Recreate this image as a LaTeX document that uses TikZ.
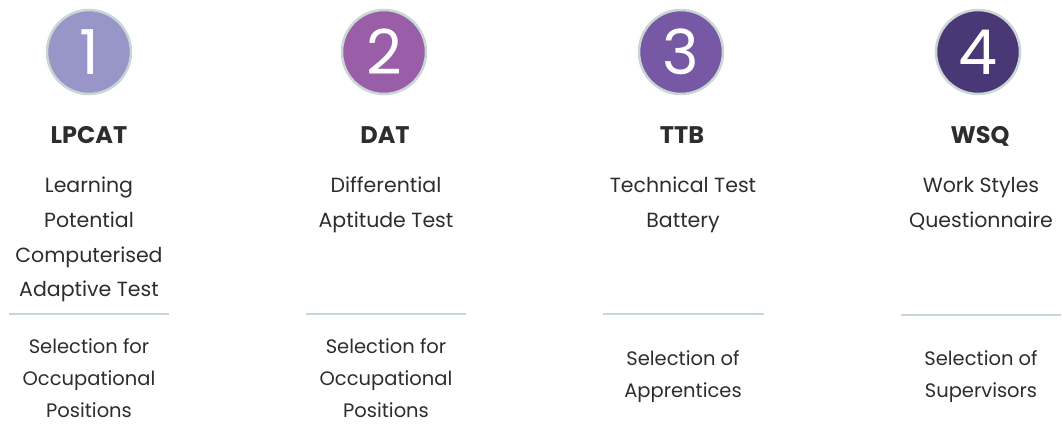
\documentclass[tikz,border=0pt]{standalone}
\usepackage{fontspec}
\setmainfont{Poppins}
\definecolor{cA}{HTML}{9896C8}
\definecolor{cB}{HTML}{995EA7}
\definecolor{cC}{HTML}{7658A4}
\definecolor{cD}{HTML}{493776}
\definecolor{ring}{HTML}{C8D6D4}
\definecolor{sep}{HTML}{C6D7D8}
\definecolor{txt}{HTML}{2D2D2D}
\begin{document}
\begin{tikzpicture}[x=1pt,y=-1pt,
  badge/.style={circle,draw=ring,line width=2.5pt,minimum size=84pt,inner sep=0pt,text=white,font=\fontsize{62}{62}\selectfont},
  ttl/.style={anchor=base,text=txt,inner sep=0pt,font=\bfseries\fontsize{24}{28}\selectfont},
  desc/.style={anchor=north,align=center,text=txt,inner sep=0pt,font=\fontsize{20.5}{34.7}\selectfont,execute at begin node={\rule{0pt}{20pt}}},
  use/.style={anchor=north,align=center,text=txt,inner sep=0pt,font=\fontsize{19.5}{32}\selectfont,execute at begin node={\rule{0pt}{20pt}}},
  rule/.style={draw=sep,line width=1.2pt}]
\useasboundingbox (0,0) rectangle (1062,434);
% badges
\node[badge,fill=cA] (b1) at (89,52) {1};
\node[badge,fill=cB] (b2) at (384,52) {2};
\node[badge,fill=cC] (b3) at (681,52) {3};
\node[badge,fill=cD] (b4) at (978,52) {4};
% titles
\node[ttl] (t1) at (89,143) {LPCAT};
\node[ttl] (t2) at (385,143) {DAT};
\node[ttl] (t3) at (682,143) {TTB};
\node[ttl] (t4) at (980,143) {WSQ};
% descriptions
\node[desc] (d1) at (89,177) {Learning\\Potential\\Computerised\\Adaptive Test};
\node[desc] (d2) at (386,177) {Differential\\Aptitude Test};
\node[desc] (d3) at (683,177) {Technical Test\\Battery};
\node[desc] (d4) at (981,177) {Work Styles\\Questionnaire};
% separators
\coordinate (l1a) at (9,314);   \coordinate (l1b) at (169,314);
\coordinate (l2a) at (306,314); \coordinate (l2b) at (466,314);
\coordinate (l3a) at (603,314); \coordinate (l3b) at (764,314);
\coordinate (l4a) at (901,315); \coordinate (l4b) at (1061,315);
\draw[rule] (l1a) -- (l1b);
\draw[rule] (l2a) -- (l2b);
\draw[rule] (l3a) -- (l3b);
\draw[rule] (l4a) -- (l4b);
% uses
\node[use] (u1) at (89,338) {Selection for\\Occupational\\Positions};
\node[use] (u2) at (386,338) {Selection for\\Occupational\\Positions};
\node[use] (u3) at (683,350) {Selection of\\Apprentices};
\node[use] (u4) at (981,350) {Selection of\\Supervisors};
\end{tikzpicture}
\end{document}
